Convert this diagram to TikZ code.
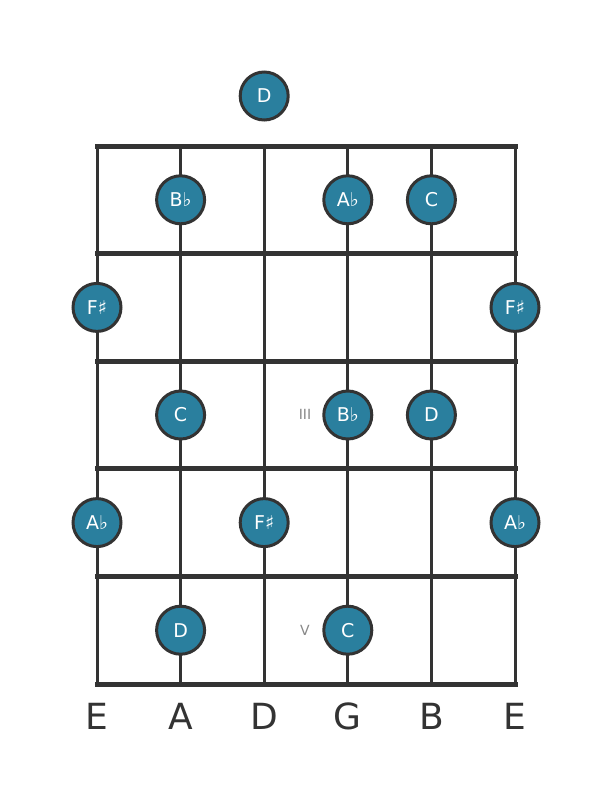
\documentclass[tikz,border=0pt]{standalone}
\usepackage{fontspec}
\setmainfont{DejaVu Sans}
\usepackage{tikz}
\usetikzlibrary{calc}
\definecolor{grid}{HTML}{333333}
\definecolor{dotfill}{HTML}{2A7F9E}
\definecolor{marker}{HTML}{888888}
\tikzset{
  note/.style={circle,draw=grid,line width=3pt,fill=dotfill,minimum size=48pt,inner sep=0pt,
    text=white,font=\fontsize{19}{19}\selectfont},
  fretmark/.style={text=marker,font=\fontsize{14}{14}\selectfont},
  strname/.style={text=grid,font=\fontsize{36}{36}\selectfont}
}
\begin{document}
\begin{tikzpicture}[x=1pt,y=-1pt]
    \useasboundingbox (0,0) rectangle (611,801);
    \begin{scope}[grid,line cap=rect]
    % Strings:
    \foreach \s/\x in {1/97,2/180.6,3/264.2,4/347.8,5/431.4,6/515}{%
        \draw [line width=3pt] (\x,146) -- (\x,684);
    }
    % Frets:
    \foreach \y in {146,253.6,361.2,468.8,576.4,684}{%
        \draw [line width=5pt] (97,\y) -- (515,\y);
    }
    \end{scope}
    % Fret markers:
    \node [fretmark] (m3) at (305,414) {III};
    \node [fretmark] (m5) at (305,630) {V};
    % Notes:
    \node [note] (n0) at (264.2,96) {D};
    \node [note] (n1a) at (180.6,199.8) {B♭};
    \node [note] (n1b) at (347.8,199.8) {A♭};
    \node [note] (n1c) at (431.4,199.8) {C};
    \node [note] (n2a) at (97,307.4) {F♯};
    \node [note] (n2b) at (515,307.4) {F♯};
    \node [note] (n3a) at (180.6,415) {C};
    \node [note] (n3b) at (347.8,415) {B♭};
    \node [note] (n3c) at (431.4,415) {D};
    \node [note] (n4a) at (97,522.6) {A♭};
    \node [note] (n4b) at (264.2,522.6) {F♯};
    \node [note] (n4c) at (515,522.6) {A♭};
    \node [note] (n5a) at (180.6,630.2) {D};
    \node [note] (n5b) at (347.8,630.2) {C};
    % String names:
    \foreach \x/\n [count=\i] in {97/E,180.6/A,264.2/D,347.8/G,431.4/B,515/E}{%
        \node [strname] (s\i) at (\x,716) {\n};
    }
\end{tikzpicture}
\end{document}
